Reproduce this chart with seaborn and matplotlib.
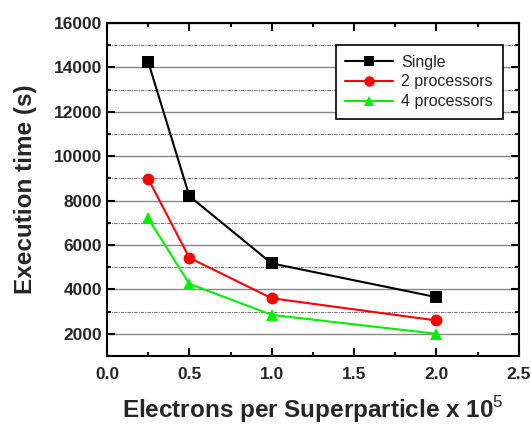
import matplotlib
matplotlib.use("Agg")
import matplotlib.pyplot as plt
import seaborn as sns
import pandas as pd
from matplotlib.ticker import MultipleLocator

x_vals = [0.25, 0.5, 1.0, 2.0]
single = [14250, 8200, 5170, 3650]
two_proc = [8980, 5420, 3600, 2600]
four_proc = [7200, 4250, 2850, 2000]
series_names = ["Single", "2 processors", "4 processors"]

df = pd.DataFrame({
    "x": x_vals * 3,
    "y": single + two_proc + four_proc,
    "series": [series_names[0]] * 4 + [series_names[1]] * 4 + [series_names[2]] * 4,
})

sns.set_theme(style="white")
plt.rcParams['font.family'] = ['Liberation Sans', 'DejaVu Sans']
plt.rcParams['mathtext.fontset'] = 'custom'
plt.rcParams['mathtext.rm'] = 'Liberation Sans'
plt.rcParams['mathtext.bf'] = 'Liberation Sans:bold'

fig = plt.figure(figsize=(5.31, 4.25), dpi=100)
ax = fig.add_axes([0.2015, 0.1624, 0.7755, 0.7836])

palette = {"Single": "black", "2 processors": "#ff0000", "4 processors": "#00ee00"}
markers = {"Single": "s", "2 processors": "o", "4 processors": "^"}
sns.lineplot(data=df, x="x", y="y", hue="series", style="series", palette=palette,
             markers=markers, dashes=False, markersize=8.5, linewidth=1.5,
             markeredgewidth=0, ax=ax, legend=True)

ax.set_xlim(0, 2.5)
ax.set_ylim(1000, 16000)
ax.xaxis.set_major_locator(MultipleLocator(0.5))
ax.xaxis.set_minor_locator(MultipleLocator(0.25))
ax.yaxis.set_major_locator(MultipleLocator(2000))
ax.yaxis.set_minor_locator(MultipleLocator(1000))
ax.xaxis.set_major_formatter(matplotlib.ticker.FormatStrFormatter('%.1f'))

ax.grid(True, which='major', axis='y', color='#888888', linewidth=1.0, linestyle='-')
ax.grid(True, which='minor', axis='y', color='#777777', linewidth=0.8, linestyle=(0, (3, 1, 1, 1)))
ax.set_axisbelow(True)

ax.tick_params(which='both', direction='in', top=True, right=True, bottom=True, left=True,
               width=1.5, color='black')
ax.tick_params(which='major', length=6, labelsize=12.5)
ax.tick_params(axis='x', which='major', pad=8)
ax.tick_params(which='minor', length=3)
for lab in ax.get_xticklabels() + ax.get_yticklabels():
    lab.set_fontweight('bold')
for s in ax.spines.values():
    s.set_color('black')
    s.set_linewidth(1.5)

ax.set_xlabel(r"Electrons per Superparticle x 10$^{\mathrm{5}}$", fontsize=17.5, fontweight='bold', labelpad=9)
ax.set_ylabel("Execution time (s)", fontsize=17.5, fontweight='bold', labelpad=12)

leg = ax.legend(loc='upper right', bbox_to_anchor=(0.961, 0.934), borderaxespad=0,
                frameon=True, fancybox=False,
                edgecolor='black', fontsize=11.5, handlelength=3.0, borderpad=0.6,
                labelspacing=0.3, handletextpad=0.5, framealpha=1)
leg.get_frame().set_linewidth(1.2)
for h in leg.legend_handles:
    h.set_markersize(7.5)

fig.savefig("out.png", dpi=100)
